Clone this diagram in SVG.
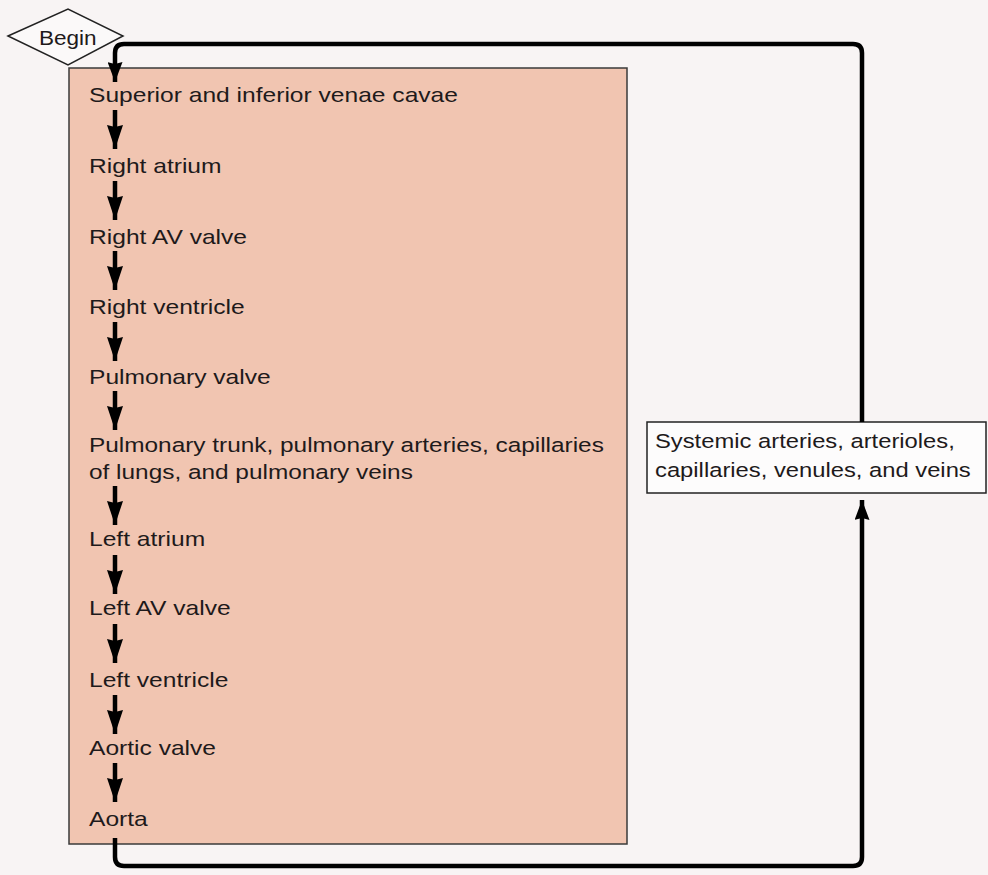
<svg xmlns="http://www.w3.org/2000/svg" width="988" height="875" viewBox="0 0 988 875">
<defs>
<style>
.t{font-family:"Liberation Sans",Arial,sans-serif;font-size:20.5px;fill:#1e1a1b}
.loop{fill:none;stroke:#000;stroke-width:4.5;stroke-linejoin:round}
.step{stroke:#000;stroke-width:4.5}
</style>
<marker id="ah" markerUnits="userSpaceOnUse" markerWidth="24" markerHeight="16" refX="24" refY="8" orient="auto" viewBox="0 0 24 16">
<path d="M0,0 L24,8 L0,16 L2,8 Z" fill="#000"/>
</marker>
<marker id="ah2" markerUnits="userSpaceOnUse" markerWidth="20" markerHeight="15" refX="20" refY="7.5" orient="auto" viewBox="0 0 20 15">
<path d="M0,0 L20,7.5 L0,15 L2,7.5 Z" fill="#000"/>
</marker>
</defs>
<rect width="988" height="875" fill="#f8f4f4"/>
<g id="heart">
<rect x="69" y="68" width="558" height="776" fill="#f1c5b1" stroke="#3a3a3a" stroke-width="1.5"/>
</g>
<g id="begin">
<path d="M8,36 L68,9 L123,36 L68,65 Z" fill="#fbf9f9" stroke="#222" stroke-width="1.5"/>
<text class="t" transform="matrix(1.1,0,0,1,39,45)" style="font-size:20.5px">Begin</text>
</g>
<g id="n1"><text class="t" transform="matrix(1.2,0,0,1,89,102)">Superior and inferior venae cavae</text></g>
<g id="n2"><text class="t" transform="matrix(1.2,0,0,1,89,173)">Right atrium</text></g>
<g id="n3"><text class="t" transform="matrix(1.2,0,0,1,89,244)">Right AV valve</text></g>
<g id="n4"><text class="t" transform="matrix(1.2,0,0,1,89,314)">Right ventricle</text></g>
<g id="n5"><text class="t" transform="matrix(1.2,0,0,1,89,384)">Pulmonary valve</text></g>
<g id="n6"><text class="t" transform="matrix(1.19,0,0,1,89,452)">Pulmonary trunk, pulmonary arteries, capillaries</text><text class="t" transform="matrix(1.19,0,0,1,89,479)">of lungs, and pulmonary veins</text></g>
<g id="n7"><text class="t" transform="matrix(1.2,0,0,1,89,546)">Left atrium</text></g>
<g id="n8"><text class="t" transform="matrix(1.2,0,0,1,89,615)">Left AV valve</text></g>
<g id="n9"><text class="t" transform="matrix(1.2,0,0,1,89,687)">Left ventricle</text></g>
<g id="n10"><text class="t" transform="matrix(1.2,0,0,1,89,755)">Aortic valve</text></g>
<g id="n11"><text class="t" transform="matrix(1.2,0,0,1,89,826)">Aorta</text></g>
<g id="systemic">
<rect x="647" y="422" width="339" height="71" fill="#fdfcfc" stroke="#222" stroke-width="1.5"/>
<text class="t" transform="matrix(1.16,0,0,1,655,448)">Systemic arteries, arterioles,</text>
<text class="t" transform="matrix(1.16,0,0,1,655,477)">capillaries, venules, and veins</text>
</g>
<g id="connectors">
<line class="step" x1="115" y1="110" x2="115" y2="149" marker-end="url(#ah)"/>
<line class="step" x1="115" y1="181" x2="115" y2="220" marker-end="url(#ah)"/>
<line class="step" x1="115" y1="251" x2="115" y2="290" marker-end="url(#ah)"/>
<line class="step" x1="115" y1="322" x2="115" y2="361" marker-end="url(#ah)"/>
<line class="step" x1="115" y1="391" x2="115" y2="430" marker-end="url(#ah)"/>
<line class="step" x1="115" y1="486" x2="115" y2="525" marker-end="url(#ah)"/>
<line class="step" x1="115" y1="555" x2="115" y2="594" marker-end="url(#ah)"/>
<line class="step" x1="115" y1="624" x2="115" y2="663" marker-end="url(#ah)"/>
<line class="step" x1="115" y1="695" x2="115" y2="734" marker-end="url(#ah)"/>
<line class="step" x1="115" y1="763" x2="115" y2="802" marker-end="url(#ah)"/>
<path class="loop" d="M115,838 L115,857 Q115,866 124,866 L853,866 Q862,866 862,857 L862,500" marker-end="url(#ah2)"/>
<path class="loop" d="M862,422 L862,53 Q862,44 853,44 L124,44 Q115,44 115,53 L115,82" marker-end="url(#ah2)"/>
</g>
</svg>
